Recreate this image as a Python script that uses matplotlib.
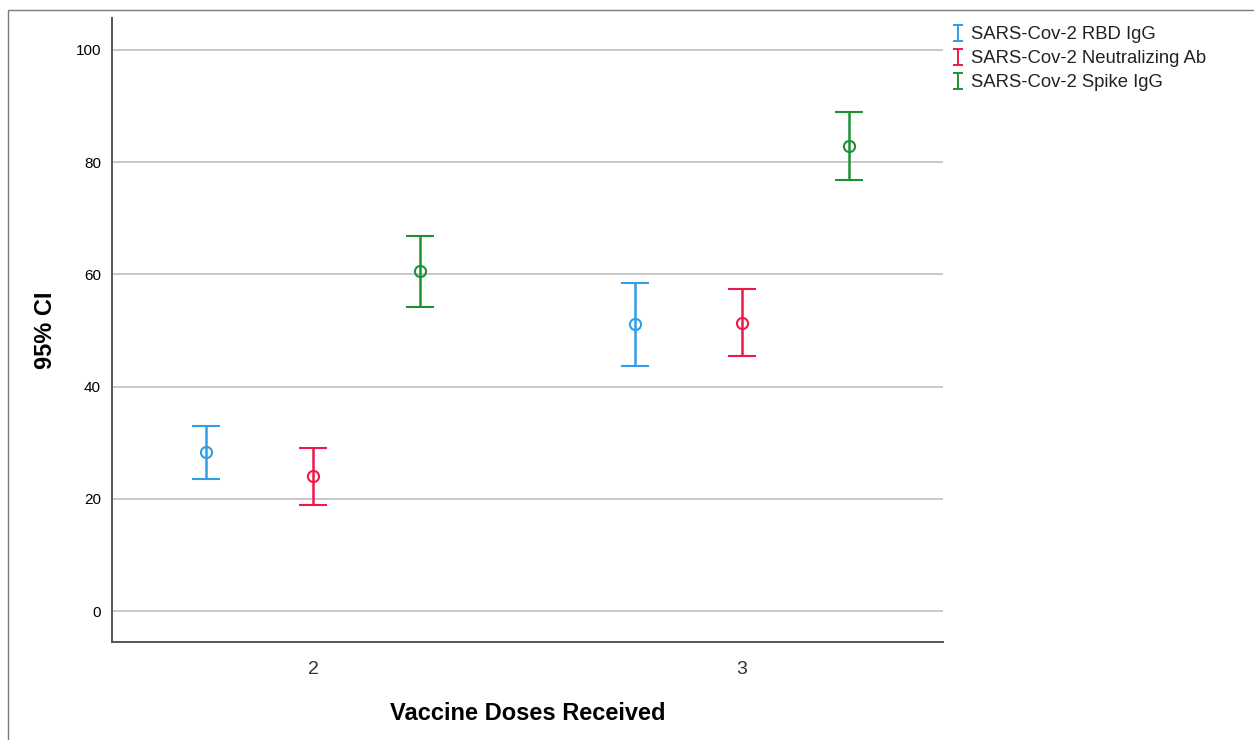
import matplotlib
matplotlib.use("Agg")
import matplotlib.pyplot as plt
from matplotlib.patches import Rectangle
from matplotlib.lines import Line2D
from matplotlib.path import Path
import numpy as np

plt.rcParams['font.family'] = ['Liberation Sans', 'DejaVu Sans']

groups = ["2", "3"]
series = ["SARS-Cov-2 RBD IgG", "SARS-Cov-2 Neutralizing Ab", "SARS-Cov-2 Spike IgG"]
colors = ["#2f9ee8", "#f0184a", "#1e9135"]
means = [[28.3, 51.2], [24.1, 51.3], [60.6, 82.9]]
lower = [[23.5, 43.7], [18.9, 45.5], [54.2, 76.8]]
upper = [[33.0, 58.5], [29.1, 57.4], [66.8, 88.9]]
yticks = [0, 20, 40, 60, 80, 100]

W, H = 1254, 740
fig = plt.figure(figsize=(W / 100, H / 100), dpi=100)
ax = fig.add_axes([112 / W, 1 - 642 / H, (943 - 112) / W, (642 - 18) / H])

fig.patches.append(Rectangle((8 / W, -0.1), 1.2, 1.1 - 10 / H, transform=fig.transFigure,
                             fill=False, edgecolor="#7a7a7a", linewidth=1.0))

x = np.arange(len(groups))
offsets = [-0.249, 0.0, 0.249]
for i, name in enumerate(series):
    m = np.array(means[i]); lo = np.array(lower[i]); up = np.array(upper[i])
    ax.errorbar(x + offsets[i], m, yerr=[m - lo, up - m], fmt='o', color=colors[i],
                mfc='none', mec=colors[i], ms=8, mew=1.5, elinewidth=1.8,
                capsize=10, capthick=1.8, label=name, zorder=3)

ax.set_xlim(-0.4685, 1.4685)
ax.set_ylim(-5.5, 105.7)
ax.set_yticks(yticks)
ax.set_yticklabels([str(v) for v in yticks], fontsize=11)
ax.set_xticks(x)
ax.set_xticklabels(groups, fontsize=14, color="#333333")
ax.tick_params(axis='both', length=0)
ax.tick_params(axis='y', pad=8)
ax.tick_params(axis='x', pad=14)
ax.yaxis.grid(True, color="#c8c8c8", linewidth=1.4, zorder=0)
ax.set_axisbelow(True)
for s in ['top', 'right']:
    ax.spines[s].set_visible(False)
for s in ['left', 'bottom']:
    ax.spines[s].set_color("#555555")
    ax.spines[s].set_linewidth(1.4)

ax.set_ylabel("95% CI", fontsize=17, fontweight='bold')
ax.yaxis.set_label_coords(-0.066, 0.5)
ax.set_xlabel("Vaccine Doses Received", fontsize=17, fontweight='bold', labelpad=17)

ibeam = Path([(-0.3, 0.5), (0.3, 0.5), (0, 0.5), (0, -0.5), (-0.3, -0.5), (0.3, -0.5)],
             [Path.MOVETO, Path.LINETO, Path.MOVETO, Path.LINETO, Path.MOVETO, Path.LINETO])
labels = series
hs = [Line2D([], [], color=c, marker=ibeam, linestyle='none', markersize=11, mew=1.4,
             fillstyle='none') for c in colors]
leg = fig.legend(hs, labels, loc='upper left', bbox_to_anchor=(941 / W, 1 - 19 / H),
                 frameon=False, fontsize=13.3, handlelength=1.0, handletextpad=0.25,
                 labelspacing=0.38, borderaxespad=0)
for t in leg.get_texts():
    t.set_color("#222222")

fig.savefig("out.png", dpi=100)
